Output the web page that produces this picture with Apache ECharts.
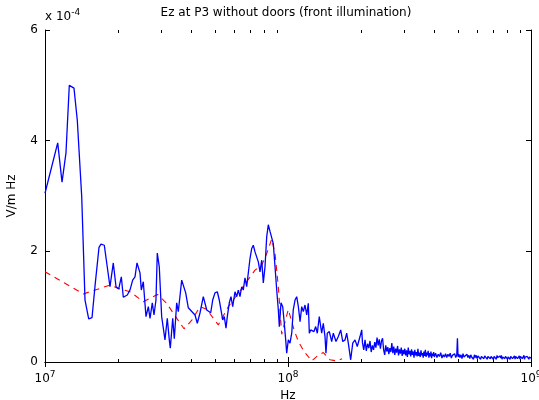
<!DOCTYPE html>
<html>
<head>
<meta charset="utf-8">
<script src="https://cdn.jsdelivr.net/npm/echarts@6/dist/echarts.min.js"></script>
<style>
  html, body { margin: 0; padding: 0; background: #fff; }
  #main { width: 539px; height: 400px; }
</style>
</head>
<body>
<div id="main"></div>
<script>
// frequency in MHz, field in units of 1e-4 V/m Hz
var blueFreqMHz = [
  10.0, 11.28, 11.75, 12.2, 12.59, 13.16, 13.58, 14.16, 14.61, 15.13,
  15.61, 16.11, 16.68, 17.0, 17.54, 18.51, 19.1, 19.6, 20.11, 20.61,
  21.0, 21.81, 22.37, 22.95, 23.46, 23.91, 24.6, 24.91, 25.38, 26.04,
  26.62, 27.05, 27.64, 28.09, 28.62, 28.98, 29.53, 30.21, 31.17, 31.86,
  32.47, 32.78, 33.54, 34.05, 34.83, 35.37, 36.52, 37.93, 38.88, 39.51,
  41.43, 42.34, 43.45, 44.82, 46.29, 48.08, 48.99, 50.06, 51.17, 52.15,
  53.86, 54.68, 55.57, 56.26, 57.33, 58.26, 59.21, 60.51, 61.5, 62.44,
  63.45, 64.48, 65.46, 66.53, 67.61, 68.64, 69.76, 70.89, 71.98, 73.15,
  74.34, 75.48, 76.7, 77.95, 79.14, 80.42, 81.72, 82.97, 84.32, 85.69,
  87.0, 88.42, 89.86, 91.24, 92.11, 93.58, 95.11, 96.27, 97.84, 98.78,
  100.3, 101.9, 103.6, 105.1, 106.9, 108.6, 110.3, 112.1, 113.9, 115.6,
  117.5, 119.4, 121.2, 122.4, 124.0, 125.9, 127.9, 130.0, 132.0, 134.5,
  136.3, 137.6, 139.7, 142.0, 143.3, 145.1, 147.9, 151.3, 153.6, 157.6,
  161.1, 164.8, 168.0, 171.7, 174.4, 177.1, 181.1, 184.7, 188.7, 192.8,
  197.9, 201.1,
  202.5, 205, 207.5, 210, 212.5, 215, 217.5, 220, 222.5, 225,
  227.5, 230, 232.5, 235, 237.5, 240, 242.5, 245, 247.5, 250,
  252.5, 255, 257.5, 260, 262.5, 265, 267.5, 270, 272.5, 275,
  277.5, 280, 282.5, 285, 287.5, 290, 292.5, 295, 297.5, 300,
  302.5, 305, 307.5, 310, 312.5, 315, 317.5, 320, 322.5, 325,
  327.5, 330, 332.5, 335, 337.5, 340, 342.5, 345, 347.5, 350,
  352.5, 355, 357.5, 360, 362.5, 365, 367.5, 370, 372.5, 375,
  377.5, 380, 382.5, 385, 387.5, 390, 392.5, 395, 397.5, 400,
  405, 410, 415, 420, 425, 430, 435, 440, 445, 450,
  455, 460, 465, 470, 475, 480, 485, 490, 495, 498,
  501, 505, 510, 515, 520, 525, 530, 535, 540, 545,
  550, 555, 560, 565, 570, 575, 580, 585, 590, 595,
  600, 605, 610, 615, 620, 625, 630, 635, 640, 645,
  650, 655, 660, 665, 670, 675, 680, 685, 690, 695,
  700, 705, 710, 715, 720, 725, 730, 735, 740, 745,
  750, 755, 760, 765, 770, 775, 780, 785, 790, 795,
  800, 805, 810, 815, 820, 825, 830, 835, 840, 845,
  850, 855, 860, 865, 870, 875, 880, 885, 890, 895,
  900, 905, 910, 915, 920, 925, 930, 935, 940, 945,
  950, 955, 960, 965, 970, 975, 980, 985, 990, 995,
  1000
];
var blueEz = [
  3.05, 3.96, 3.25, 3.78, 5.0, 4.95, 4.37, 2.99, 1.12, 0.78,
  0.8, 1.43, 2.07, 2.13, 2.11, 1.36, 1.79, 1.36, 1.32, 1.54,
  1.17, 1.21, 1.3, 1.48, 1.54, 1.79, 1.61, 1.3, 1.45, 0.82,
  1.0, 0.79, 1.07, 0.85, 1.12, 1.97, 1.72, 0.82, 0.4, 0.79,
  0.4, 0.25, 0.79, 0.42, 1.07, 0.91, 1.48, 1.25, 0.98, 1.0,
  0.85, 0.7, 0.89, 1.18, 0.94, 0.89, 1.12, 1.25, 1.27, 1.12,
  0.76, 0.82, 0.61, 0.82, 1.07, 1.18, 1.0, 1.27, 1.18, 1.3,
  1.18, 1.36, 1.3, 1.52, 1.36, 1.39, 1.87, 2.05, 2.11, 1.99,
  2.02, 1.81, 1.63, 1.84, 1.43, 1.72, 2.26, 2.48, 2.36, 2.39,
  2.14, 1.72, 1.3, 0.94, 0.64, 1.07, 1.0, 0.76, 0.4, 0.16,
  0.4, 0.34, 0.52, 0.94, 1.12, 1.18, 1.0, 0.73, 1.0, 0.91,
  1.03, 0.85, 1.06, 0.52, 0.58, 0.61, 0.55, 0.64, 0.52, 0.82,
  0.79, 0.52, 0.7, 0.46, 0.16, 0.52, 0.55, 0.37, 0.52, 0.37,
  0.46, 0.58, 0.37, 0.4, 0.52, 0.34, 0.04, 0.34, 0.4, 0.28,
  0.46, 0.58,
  0.35, 0.22, 0.40, 0.20, 0.33, 0.25, 0.38, 0.18, 0.30, 0.22,
  0.36, 0.26, 0.44, 0.30, 0.41, 0.24, 0.38, 0.43, 0.22, 0.13,
  0.30, 0.19, 0.27, 0.14, 0.25, 0.18, 0.34, 0.16, 0.28, 0.13,
  0.24, 0.17, 0.29, 0.12, 0.23, 0.15, 0.26, 0.11, 0.22, 0.14,
  0.24, 0.12, 0.21, 0.09, 0.26, 0.14, 0.20, 0.10, 0.23, 0.13,
  0.19, 0.08, 0.22, 0.12, 0.18, 0.10, 0.24, 0.11, 0.17, 0.09,
  0.21, 0.12, 0.16, 0.08, 0.19, 0.11, 0.22, 0.09, 0.17, 0.12,
  0.20, 0.08, 0.16, 0.10, 0.19, 0.07, 0.15, 0.11, 0.18, 0.09,
  0.16, 0.08, 0.14, 0.10, 0.17, 0.07, 0.13, 0.09, 0.15, 0.08,
  0.14, 0.10, 0.16, 0.07, 0.12, 0.09, 0.15, 0.08, 0.13, 0.43,
  0.09, 0.14, 0.08, 0.13, 0.06, 0.15, 0.09, 0.12, 0.07, 0.14,
  0.08, 0.12, 0.06, 0.13, 0.09, 0.11, 0.05, 0.13, 0.08, 0.12,
  0.06, 0.11, 0.08, 0.13, 0.05, 0.10, 0.07, 0.12, 0.06, 0.11,
  0.08, 0.12, 0.05, 0.10, 0.07, 0.12, 0.06, 0.10, 0.08, 0.13,
  0.05, 0.10, 0.07, 0.11, 0.05, 0.12, 0.08, 0.10, 0.06, 0.11,
  0.07, 0.12, 0.05, 0.09, 0.07, 0.11, 0.06, 0.10, 0.08, 0.12,
  0.05, 0.09, 0.07, 0.11, 0.05, 0.10, 0.08, 0.12, 0.06, 0.09,
  0.07, 0.11, 0.05, 0.10, 0.08, 0.12, 0.06, 0.09, 0.07, 0.11,
  0.05, 0.10, 0.08, 0.11, 0.06, 0.09, 0.07, 0.12, 0.05, 0.09,
  0.07, 0.11, 0.06, 0.10, 0.08, 0.11, 0.05, 0.09, 0.07, 0.10,
  0.07
];

var redFreqMHz = [
  10.0, 14.38, 18.51, 20.03, 22.37, 25.38, 29.04, 31.68, 34.6, 37.33,
  40.27, 43.45, 46.29, 51.67, 56.79, 62.44, 67.61, 73.15, 77.95, 81.72,
  85.69, 88.42, 91.24, 94.22, 100.3, 105.9, 110.3, 116.4, 125.2, 132.9,
  139.7, 148.9, 159.1, 166.8
];
var redEz = [
  1.63, 1.23, 1.39, 1.33, 1.27, 1.09, 1.22, 1.06, 0.81, 0.6,
  0.76, 1.0, 0.95, 0.67, 1.0, 1.24, 1.45, 1.66, 1.75, 1.96,
  2.22, 1.96, 1.36, 0.5, 0.95, 0.58, 0.37, 0.19, 0.02, 0.12,
  0.17, 0.04, 0.02, 0.06
];

var yTicks = [0, 2, 4, 6];
var decadeExps = [7, 8];
var minorSteps = [2, 3, 4, 5, 6, 7, 8, 9];

function pairs(fs, vs) {
  return fs.map(function (f, i) { return [f * 1e6, vs[i]]; });
}

// minor tick positions for the log axis, in log10 units
var minorTickPos = [];
decadeExps.forEach(function (e) {
  minorSteps.forEach(function (k) { minorTickPos.push(e + Math.log10(k)); });
});

var font = 'DejaVu Sans';
var myChart = echarts.init(document.getElementById('main'));

var logAxisBase = {
  type: 'log',
  logBase: 10,
  min: 1e7,
  max: 1e9,
  gridIndex: 0,
  axisLine: { show: true, lineStyle: { color: '#000', width: 1 } },
  axisTick: { show: true, inside: true, length: 5, lineStyle: { color: '#000' } },
  splitLine: { show: false },
  minorTick: { show: false }
};
var minorAxisBase = {
  type: 'value',
  min: 7,
  max: 9,
  gridIndex: 0,
  axisLine: { show: false },
  axisLabel: { show: false },
  splitLine: { show: false },
  axisTick: { show: true, inside: true, length: 3, customValues: minorTickPos, lineStyle: { color: '#000' } }
};

var option = {
  animation: false,
  backgroundColor: '#fff',
  grid: { left: 45, right: 8, top: 30, bottom: 38, outerBoundsMode: 'none', containLabel: false },
  graphic: [
    {
      type: 'text',
      x: 286,
      y: 7,
      style: {
        text: 'Ez at P3 without doors (front illumination)',
        font: '12px "' + font + '"',
        fill: '#000',
        textAlign: 'center',
        textVerticalAlign: 'top'
      }
    },
    {
      type: 'text',
      x: 45,
      y: 8,
      style: {
        text: '{a|x 10}{b|-4}',
        fill: '#000',
        rich: {
          a: { fontSize: 12, fontFamily: font, color: '#000' },
          b: { fontSize: 9, fontFamily: font, color: '#000', padding: [0, 0, 8, 0] }
        }
      }
    }
  ],
  xAxis: [
    Object.assign({}, logAxisBase, {
      position: 'bottom',
      name: 'Hz',
      nameLocation: 'middle',
      nameGap: 26,
      nameTextStyle: { color: '#000', fontSize: 12, fontFamily: font },
      axisLabel: {
        margin: 8,
        formatter: function (v) {
          return '{b|10}{s|' + Math.round(Math.log10(v)) + '}';
        },
        rich: {
          b: { fontSize: 12, fontFamily: font, color: '#000' },
          s: { fontSize: 9, fontFamily: font, color: '#000', padding: [0, 0, 8, 0] }
        }
      }
    }),
    Object.assign({}, logAxisBase, { position: 'top', axisLabel: { show: false } }),
    Object.assign({}, minorAxisBase, { position: 'bottom' }),
    Object.assign({}, minorAxisBase, { position: 'top' })
  ],
  yAxis: [
    {
      type: 'value',
      min: yTicks[0],
      max: yTicks[yTicks.length - 1],
      interval: 2,
      position: 'left',
      name: 'V/m Hz',
      nameLocation: 'middle',
      nameGap: 27,
      nameTextStyle: { color: '#000', fontSize: 12, fontFamily: font },
      axisLine: { show: true, lineStyle: { color: '#000', width: 1 } },
      axisTick: { show: true, inside: true, length: 5, lineStyle: { color: '#000' } },
      axisLabel: { color: '#000', fontSize: 12, fontFamily: font, margin: 7 },
      splitLine: { show: false }
    },
    {
      type: 'value',
      min: yTicks[0],
      max: yTicks[yTicks.length - 1],
      interval: 2,
      position: 'right',
      axisLine: { show: true, lineStyle: { color: '#000', width: 1 } },
      axisTick: { show: true, inside: true, length: 5, lineStyle: { color: '#000' } },
      axisLabel: { show: false },
      splitLine: { show: false }
    }
  ],
  series: [
    {
      name: 'Ez',
      type: 'line',
      xAxisIndex: 0,
      yAxisIndex: 0,
      data: pairs(blueFreqMHz, blueEz),
      showSymbol: false,
      lineStyle: { color: '#0000ff', width: 1.3 },
      z: 3
    },
    {
      name: 'Ez ref',
      type: 'line',
      xAxisIndex: 0,
      yAxisIndex: 0,
      data: pairs(redFreqMHz, redEz),
      showSymbol: false,
      lineStyle: { color: '#ff0000', width: 1.1, type: [6, 5] },
      z: 2
    }
  ]
};

myChart.setOption(option);
</script>
</body>
</html>
